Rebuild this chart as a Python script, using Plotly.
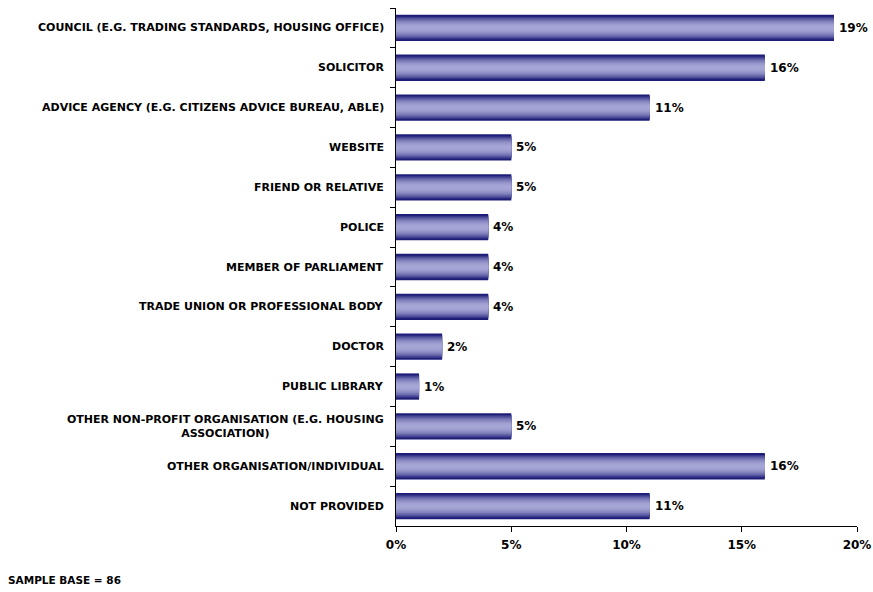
import plotly.graph_objects as go

# Where respondents sought advice (share of sample, %)
categories = [
    "COUNCIL (E.G. TRADING STANDARDS, HOUSING OFFICE)",
    "SOLICITOR",
    "ADVICE AGENCY (E.G. CITIZENS ADVICE BUREAU, ABLE)",
    "WEBSITE",
    "FRIEND OR RELATIVE",
    "POLICE",
    "MEMBER OF PARLIAMENT",
    "TRADE UNION OR PROFESSIONAL BODY",
    "DOCTOR",
    "PUBLIC LIBRARY",
    "OTHER NON-PROFIT ORGANISATION (E.G. HOUSING<br>ASSOCIATION)",
    "OTHER ORGANISATION/INDIVIDUAL",
    "NOT PROVIDED",
]
values = [19, 16, 11, 5, 5, 4, 4, 4, 2, 1, 5, 16, 11]
x_ticks = [0, 5, 10, 15, 20]
sample_note = "SAMPLE BASE = 86"

FONT = "DejaVu Sans"
DARK = (28, 28, 120)
LIGHT = (166, 166, 214)
BAR_WIDTH = 0.66
N_LAYERS = 14

fig = go.Figure()

# Cylinder-style shading: stacked overlaid bars, narrowing and lightening toward the centre
for i in range(N_LAYERS):
    f = 1 - i / N_LAYERS          # 1 at outer edge -> small at centre
    k = min(1.0, f ** 2.2 * 1.15)
    col = tuple(int(round(LIGHT[j] + (DARK[j] - LIGHT[j]) * k)) for j in range(3))
    is_outer = i == 0
    fig.add_trace(go.Bar(
        y=categories,
        x=values,
        orientation="h",
        width=BAR_WIDTH * f,
        marker=dict(color="rgb(%d,%d,%d)" % col, line=dict(width=0)),
        hoverinfo="skip" if not is_outer else "x+y",
        showlegend=False,
    ))

# Value labels just past each bar end
for cat, v in zip(categories, values):
    fig.add_annotation(
        x=v, xref="x", xshift=3, xanchor="left",
        y=cat, yref="y", yanchor="middle",
        text=f"{v}%", showarrow=False,
        font=dict(family=FONT, size=12, color="black", weight="bold"),
    )

# Category labels as annotations so the wrapped label is centred
for cat in categories:
    fig.add_annotation(
        x=0, xref="paper", xshift=-10, xanchor="right",
        y=cat, yref="y", yanchor="middle",
        text=cat, showarrow=False, align="center",
        font=dict(family=FONT, size=11, color="black", weight="bold"),
    )

fig.add_annotation(
    x=0, xref="paper", xshift=-390, xanchor="left",
    y=0, yref="paper", yshift=-54, yanchor="middle",
    text=sample_note, showarrow=False,
    font=dict(family=FONT, size=10.5, color="black", weight="bold"),
)

fig.update_layout(
    width=873, height=592,
    barmode="overlay",
    plot_bgcolor="white", paper_bgcolor="white",
    margin=dict(l=396, r=16, t=8, b=66),
    font=dict(family=FONT, color="black"),
    xaxis=dict(
        range=[0, 20], tickvals=x_ticks, ticktext=[f"{t}%" for t in x_ticks],
        showgrid=False, zeroline=False, showline=True, linecolor="black", linewidth=1,
        ticks="outside", ticklen=5, tickcolor="black", automargin=False,
        ticklabelstandoff=3,
        tickfont=dict(family=FONT, size=12, color="black", weight="bold"),
    ),
    yaxis=dict(
        type="category", autorange="reversed", categoryorder="array", categoryarray=categories,
        showticklabels=False, showgrid=False, zeroline=False, automargin=False,
        showline=True, linecolor="black", linewidth=1,
        ticks="outside", ticklen=5, tickcolor="black", tickson="boundaries",
    ),
)

fig.write_html("out.html")
